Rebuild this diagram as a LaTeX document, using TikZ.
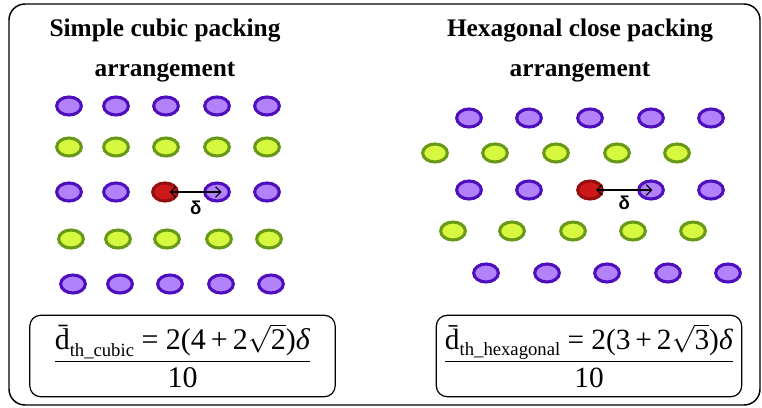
\documentclass[tikz,border=0pt]{standalone}
\usepackage{fontspec}
\setmainfont{Liberation Serif}
\newfontfamily\deltafont{Liberation Sans}
\usetikzlibrary{shapes.geometric,arrows.meta}

\definecolor{vline}{RGB}{78,14,190}
\definecolor{vfill}{RGB}{178,130,250}
\definecolor{gline}{RGB}{104,152,24}
\definecolor{gfill}{RGB}{214,248,62}
\definecolor{rline}{RGB}{150,14,14}
\definecolor{rfill}{RGB}{204,24,24}

\newcommand{\subtxt}[1]{\raisebox{-0.45ex}{\fontsize{14}{14}\selectfont #1}}

\tikzset{
  ball/.style={ellipse, minimum width=18.5pt, minimum height=13.5pt, inner sep=0pt, line width=2.3pt},
  vball/.style={ball, draw=vline, fill=vfill},
  gball/.style={ball, draw=gline, fill=gfill},
  rball/.style={ball, draw=rline, fill=rfill},
  title/.style={font=\fontsize{19}{30}\selectfont\bfseries, align=center},
  formbox/.style={draw, rounded corners=8pt, line width=0.9pt, minimum width=229pt, minimum height=61pt, inner sep=0pt},
  dlabel/.style={font=\deltafont\bfseries\fontsize{14}{14}\selectfont, inner sep=1pt}
}

\begin{document}
\begin{tikzpicture}[x=0.75pt,y=-0.75pt,>={Straight Barb[length=4pt]}]
  \useasboundingbox (0,0) rectangle (762,407);
  \draw[line width=1.1pt, rounded corners=12pt] (9,4) rectangle (760,405);

  \node[title] (tl) at (165,51) {Simple cubic packing\\arrangement};
  \node[title] (tr) at (580,51) {Hexagonal close packing\\arrangement};

  % simple cubic
  \foreach \x [count=\i] in {69,116,166,217,267} \node[vball] (c1\i) at (\x,106) {};
  \foreach \x [count=\i] in {69,116,166,217,267} \node[gball] (c2\i) at (\x,147) {};
  \foreach \x [count=\i] in {69,116,217,267} \node[vball] (c3\i) at (\x,192) {};
  \foreach \x [count=\i] in {71,118,167,219,269} \node[gball] (c4\i) at (\x,239) {};
  \foreach \x [count=\i] in {73,120,170,221,271} \node[vball] (c5\i) at (\x,284) {};
  \node[rball] (cr) at (165,192) {};
  \draw[<->, line width=0.8pt] ([xshift=3.5pt]cr.center) -- ([xshift=3.5pt]c33.center)
    node[midway, below=5pt, dlabel] (dc) {δ};

  % hexagonal
  \foreach \x [count=\i] in {469,529,590,651,711} \node[vball] (h1\i) at (\x,118) {};
  \foreach \x [count=\i] in {435,495,556,617,677} \node[gball] (h2\i) at (\x,153) {};
  \foreach \x [count=\i] in {469,529,651,711} \node[vball] (h3\i) at (\x,190) {};
  \foreach \x [count=\i] in {453,512,573,633,693} \node[gball] (h4\i) at (\x,231) {};
  \foreach \x [count=\i] in {486,547,607,668,728} \node[vball] (h5\i) at (\x,273) {};
  \node[rball] (hr) at (590,190) {};
  \draw[<->, line width=0.8pt] ([xshift=4.5pt]hr.center) -- ([xshift=1pt]h33.center)
    node[midway, below=3pt, dlabel] (dh) {δ};

  \node[formbox] (fl) at (182.5,356) {\fontsize{22.5}{26}\selectfont
    $\displaystyle\frac{\mbox{\=d\subtxt{th\_cubic} = 2(4\,+\,2$\sqrt{\mbox{2}}$)\textit{δ}}}{\mbox{10}}$};
  \node[formbox] (fr) at (589,356) {\fontsize{22}{26}\selectfont
    $\displaystyle\frac{\mbox{\=d\subtxt{th\_hexagonal} = 2(3\,+\,2$\sqrt{\mbox{3}}$)\textit{δ}}}{\mbox{10}}$};
\end{tikzpicture}
\end{document}
